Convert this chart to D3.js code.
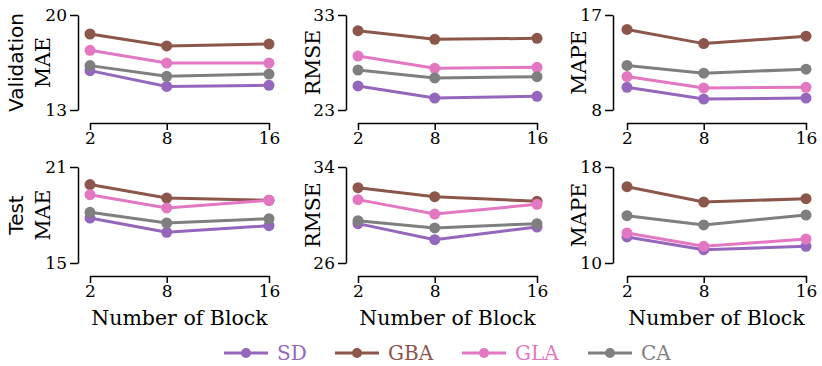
<!DOCTYPE html>
<html>
<head>
<meta charset="utf-8">
<script src="https://d3js.org/d3.v7.min.js"></script>
<style>
  body { margin: 0; background: #fff; }
  svg { display: block; }
</style>
</head>
<body>
<div id="chart"></div>
<script>
const blocks = [2, 8, 16];
const seriesNames = ["SD", "GBA", "GLA", "CA"];
const colors = ["#9467bd", "#8c564b", "#e377c2", "#7f7f7f"];
const metrics = ["MAE", "RMSE", "MAPE"];
const rowNames = ["Validation", "Test"];

// y-axis limits (ticks at both ends)
const valLimits = [[13, 20], [23, 33], [8, 17]];
const testLimits = [[15, 21], [26, 34], [10, 18]];

// Validation values, per metric: SD, GBA, GLA, CA
const valMAE = [[15.90, 14.74, 14.82], [18.60, 17.72, 17.86], [17.40, 16.46, 16.46], [16.27, 15.48, 15.65]];
const valRMSE = [[25.53, 24.26, 24.44], [31.35, 30.44, 30.54], [28.68, 27.39, 27.49], [27.21, 26.37, 26.51]];
const valMAPE = [[10.15, 9.04, 9.13], [15.63, 14.29, 14.99], [11.17, 10.09, 10.15], [12.22, 11.49, 11.87]];

// Test values
const testMAE = [[17.81, 16.92, 17.33], [19.90, 19.06, 18.92], [19.27, 18.44, 18.92], [18.17, 17.50, 17.77]];
const testRMSE = [[29.28, 27.94, 29.00], [32.28, 31.53, 31.14], [31.28, 30.08, 30.89], [29.53, 28.92, 29.28]];
const testMAPE = [[12.17, 11.11, 11.39], [16.36, 15.08, 15.36], [12.50, 11.39, 12.00], [13.94, 13.17, 14.00]];

const panels = [
  { row: 0, col: 0, values: valMAE, limits: valLimits[0] },
  { row: 0, col: 1, values: valRMSE, limits: valLimits[1] },
  { row: 0, col: 2, values: valMAPE, limits: valLimits[2] },
  { row: 1, col: 0, values: testMAE, limits: testLimits[0] },
  { row: 1, col: 1, values: testRMSE, limits: testLimits[1] },
  { row: 1, col: 2, values: testMAPE, limits: testLimits[2] }
];

const serif = "DejaVu Serif, serif";
const sans = "DejaVu Sans, sans-serif";

const svg = d3.select("#chart").append("svg")
  .attr("width", 822)
  .attr("height", 366);

const colLeft = [90, 358, 627];   // x position of block 2
const axisGap = [12, 12, 14];     // offset of y spine to the left
const labelGap = [28.5, 26.5, 27.5];
const plotW = 179;
const rowTop = [15, 167];
const rowBottom = [110, 263];
const xSpineGap = 13;

panels.forEach(p => {
  const x = d3.scaleLinear().domain([2, 16]).range([colLeft[p.col], colLeft[p.col] + plotW]);
  const y = d3.scaleLinear().domain(p.limits).range([rowBottom[p.row], rowTop[p.row]]);
  const g = svg.append("g");

  // y axis
  const yAxis = g.append("g")
    .attr("transform", `translate(${colLeft[p.col] - axisGap[p.col]},0)`)
    .call(d3.axisLeft(y).tickValues(p.limits).tickFormat(d3.format("d"))
      .tickSize(8).tickSizeOuter(0).tickPadding(3));
  // x axis
  const xAxis = g.append("g")
    .attr("transform", `translate(0,${rowBottom[p.row] + xSpineGap})`)
    .call(d3.axisBottom(x).tickValues(blocks).tickSize(7).tickSizeOuter(0).tickPadding(2));

  [yAxis, xAxis].forEach(a => {
    a.selectAll("path, line").attr("stroke", "#000").attr("stroke-width", 1.5);
    a.selectAll("text").style("font-family", serif).style("font-size", "17px").attr("fill", "#000");
  });

  // y label
  const midY = (rowTop[p.row] + rowBottom[p.row]) / 2;
  g.append("text")
    .attr("transform", `translate(${colLeft[p.col] - axisGap[p.col] - labelGap[p.col]},${midY}) rotate(-90)`)
    .attr("text-anchor", "middle")
    .style("font-family", serif)
    .style("font-size", "20.5px")
    .text(metrics[p.col]);

  if (p.col === 0) {
    g.append("text")
      .attr("transform", `translate(23,${midY}) rotate(-90)`)
      .attr("text-anchor", "middle")
      .style("font-family", sans)
      .style("font-size", "20px")
      .text(rowNames[p.row]);
  }

  if (p.row === 1) {
    g.append("text")
      .attr("x", colLeft[p.col] + plotW / 2)
      .attr("y", 325)
      .attr("text-anchor", "middle")
      .style("font-family", serif)
      .style("font-size", "20.5px")
      .text("Number of Block");
  }

  const line = d3.line().x((d, i) => x(blocks[i])).y(d => y(d));

  p.values.forEach((vals, s) => {
    g.append("path")
      .datum(vals)
      .attr("fill", "none")
      .attr("stroke", colors[s])
      .attr("stroke-width", 3)
      .attr("d", line);
    g.selectAll(null)
      .data(vals)
      .enter()
      .append("circle")
      .attr("cx", (d, i) => x(blocks[i]))
      .attr("cy", d => y(d))
      .attr("r", 5.5)
      .attr("fill", colors[s]);
  });
});

// Legend
const legendX = [224, 335, 462, 588];
const legend = svg.append("g").attr("transform", "translate(0,353)");
seriesNames.forEach((name, i) => {
  const row = legend.append("g").attr("transform", `translate(${legendX[i]},0)`);
  row.append("line")
    .attr("x1", 0).attr("x2", 44)
    .attr("stroke", colors[i])
    .attr("stroke-width", 3);
  row.append("circle")
    .attr("cx", 22).attr("r", 5)
    .attr("fill", colors[i]);
  row.append("text")
    .attr("x", 53)
    .attr("y", 7)
    .style("font-family", serif)
    .style("font-size", "20px")
    .attr("fill", colors[i])
    .text(name);
});
</script>
</body>
</html>
